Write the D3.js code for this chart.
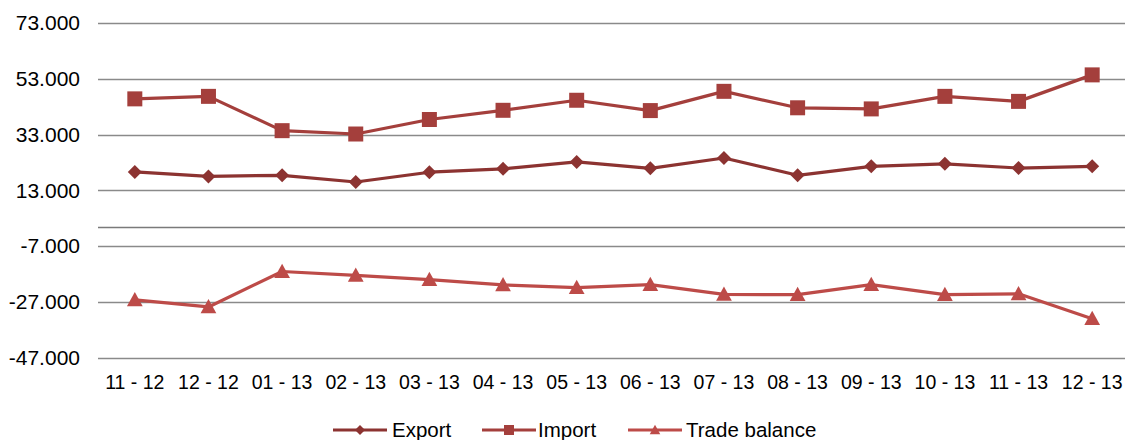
<!DOCTYPE html>
<html>
<head>
<meta charset="utf-8">
<script src="https://cdn.jsdelivr.net/npm/d3@7"></script>
<style>
  body { margin: 0; background: #fff; }
  svg { display: block; font-family: "Liberation Sans", Arial, sans-serif; }
</style>
</head>
<body>
<div class="chart"></div>
<script>
// months on the category axis
const months = ["11 - 12", "12 - 12", "01 - 13", "02 - 13", "03 - 13", "04 - 13", "05 - 13",
  "06 - 13", "07 - 13", "08 - 13", "09 - 13", "10 - 13", "11 - 13", "12 - 13"];

// series values
const exportVals = [19600, 18000, 18400, 16000, 19500, 20700, 23200, 20900, 24600, 18400, 21600, 22500, 21000, 21600];
const importVals = [45800, 46700, 34400, 33200, 38400, 41700, 45300, 41600, 48500, 42600, 42200, 46700, 44900, 54400];
const balanceVals = [-26300, -28800, -16100, -17500, -19000, -20900, -21900, -20800, -24300, -24400, -20800, -24400, -24100, -33000];

const yTicks = [-47000, -27000, -7000, 13000, 33000, 53000, 73000];

const width = 1125;
const height = 440;

const series = [
  { name: "Export", values: exportVals, color: "#8c3331", shape: "diamond" },
  { name: "Import", values: importVals, color: "#a43f3c", shape: "square" },
  { name: "Trade balance", values: balanceVals, color: "#bd4b48", shape: "triangle" },
];

const svg = d3.select(".chart").append("svg")
  .attr("width", width)
  .attr("height", height);

const x = d3.scaleBand().domain(months).range([98, 1129]).paddingInner(0);
const y = d3.scaleLinear().domain([-47000, 73000]).range([357.7, 23]);

// european style number format: 73.000, plain hyphen for negatives
const loc = d3.formatLocale({ decimal: ",", thousands: ".", grouping: [3], currency: ["", ""], minus: "-" });
const fmt = loc.format(",");

// gridlines
svg.append("g")
  .selectAll("line")
  .data(yTicks)
  .enter()
  .append("line")
  .attr("x1", 98)
  .attr("x2", width)
  .attr("y1", (d) => Math.round(y(d)) + 0.5)
  .attr("y2", (d) => Math.round(y(d)) + 0.5)
  .attr("stroke", "#8a8a8a")
  .attr("stroke-width", 1.6);

// zero line (category axis crosses here)
svg.append("line")
  .attr("x1", 98)
  .attr("x2", width)
  .attr("y1", Math.round(y(0)) + 0.5)
  .attr("y2", Math.round(y(0)) + 0.5)
  .attr("stroke", "#7a7a7a")
  .attr("stroke-width", 1.6);

// y axis labels
const yAxis = d3.axisLeft(y).tickValues(yTicks).tickFormat(fmt).tickSize(0).tickPadding(18);
svg.append("g")
  .attr("transform", "translate(98,0)")
  .call(yAxis)
  .call((g) => g.select(".domain").remove())
  .selectAll("text")
  .attr("font-size", "21px")
  .attr("font-family", "Liberation Sans, Arial, sans-serif")
  .attr("fill", "#000");

// x axis labels at the bottom
const xAxis = d3.axisBottom(x).tickSize(0).tickPadding(0);
svg.append("g")
  .attr("transform", "translate(0,375)")
  .call(xAxis)
  .call((g) => g.select(".domain").remove())
  .selectAll("text")
  .attr("font-size", "19.5px")
  .attr("font-family", "Liberation Sans, Arial, sans-serif")
  .attr("fill", "#000");

const cx = (i) => x(months[i]) + x.bandwidth() / 2;

function markerPath(shape, s) {
  if (shape === "diamond") return `M0,${-s}L${s},0L0,${s}L${-s},0Z`;
  if (shape === "square") return `M${-s},${-s}H${s}V${s}H${-s}Z`;
  return `M0,${-s * 1.05}L${s * 1.05},${s * 0.85}L${-s * 1.05},${s * 0.85}Z`;
}

const line = d3.line()
  .x((d, i) => cx(i))
  .y((d) => y(d));

series.forEach((s) => {
  const g = svg.append("g");
  g.append("path")
    .datum(s.values)
    .attr("d", line)
    .attr("fill", "none")
    .attr("stroke", s.color)
    .attr("stroke-width", 3.2)
    .attr("stroke-linejoin", "round");

  const size = s.shape === "diamond" ? 7 : 7.5;
  g.selectAll("path.m")
    .data(s.values)
    .enter()
    .append("path")
    .attr("class", "m")
    .attr("d", markerPath(s.shape, size))
    .attr("transform", (d, i) => `translate(${cx(i)},${y(d)})`)
    .attr("fill", s.color);
});

// legend
const legendItems = [
  { x: 333, tx: 392 },
  { x: 482, tx: 538 },
  { x: 628, tx: 686 },
];
const legend = svg.append("g");
series.forEach((s, i) => {
  const li = legendItems[i];
  const ly = 430;
  legend.append("line")
    .attr("x1", li.x).attr("x2", li.x + 54)
    .attr("y1", ly).attr("y2", ly)
    .attr("stroke", s.color).attr("stroke-width", 3.2);
  legend.append("path")
    .attr("d", markerPath(s.shape, 5))
    .attr("transform", `translate(${li.x + 27},${ly})`)
    .attr("fill", s.color);
  legend.append("text")
    .attr("x", li.tx)
    .attr("y", ly)
    .attr("dy", "0.35em")
    .attr("font-size", "20.5px")
    .attr("fill", "#000")
    .text(s.name);
});
</script>
</body>
</html>
